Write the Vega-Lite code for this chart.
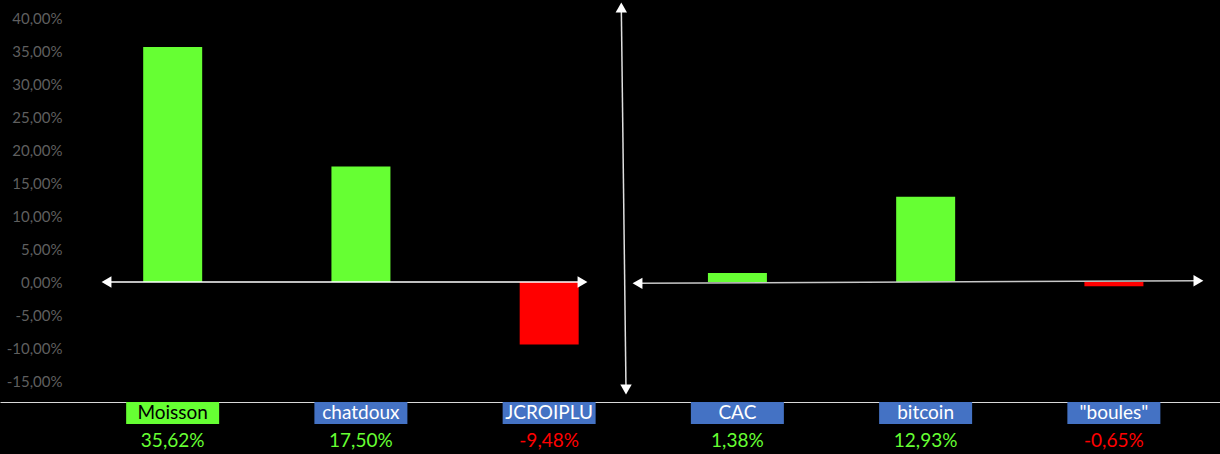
{
  "$schema": "https://vega.github.io/schema/vega-lite/v6.json",
  "background": "#000000",
  "padding": 0,
  "spacing": 0,
  "bounds": "flush",
  "config": {
    "view": {"stroke": null},
    "font": "Lato",
    "axisY": {"labelOverlap": false, "labelFlush": false},
    "locale": {"number": {"decimal": ",", "thousands": " ", "grouping": [3], "currency": ["", " €"], "minus": "-", "percent": "%"}}
  },
  "datasets": {
    "perf": [
      {"nom": "Moisson", "rendement": 0.3562},
      {"nom": "chatdoux", "rendement": 0.1750},
      {"nom": "JCROIPLU", "rendement": -0.0948},
      {"nom": "CAC", "rendement": 0.0138},
      {"nom": "bitcoin", "rendement": 0.1293},
      {"nom": "\"boules\"", "rendement": -0.0065}
    ],
    "fleches": [
      {"fleche": "gauche", "u1": -0.3517, "v1": 0.0, "u2": 2.1770, "v2": 0.0},
      {"fleche": "droite", "u1": 2.4692, "v1": -0.0020, "u2": 5.4489, "v2": 0.0020},
      {"fleche": "verticale", "u1": 2.3831, "v1": 0.4159, "u2": 2.4081, "v2": -0.1629}
    ],
    "pointes": [
      {"u": -0.3517, "v": 0.0, "sens": "gauche"},
      {"u": 2.1770, "v": 0.0, "sens": "droite"},
      {"u": 2.4692, "v": -0.0020, "sens": "gauche"},
      {"u": 5.4489, "v": 0.0020, "sens": "droite"},
      {"u": 2.3831, "v": 0.4159, "sens": "haut"},
      {"u": 2.4081, "v": -0.1629, "sens": "bas"}
    ]
  },
  "vconcat": [
    {
      "width": 1220,
      "height": 402,
      "layer": [
        {
          "data": {"name": "perf"},
          "mark": {"type": "bar"},
          "encoding": {
            "x": {
              "field": "nom", "type": "nominal", "sort": null, "title": null,
              "scale": {"paddingInner": 0.6866, "paddingOuter": 0.5838, "align": 0.6515},
              "axis": {"labels": false, "ticks": false, "domain": true, "domainColor": "#d9d9d9", "domainWidth": 1.2, "grid": false}
            },
            "y": {
              "field": "rendement", "type": "quantitative", "title": null,
              "scale": {"domain": [-0.1818, 0.4273], "nice": false, "zero": false},
              "axis": {
                "values": [-0.15, -0.1, -0.05, 0, 0.05, 0.1, 0.15, 0.2, 0.25, 0.3, 0.35, 0.4],
                "format": ".2%", "grid": false, "domain": false, "ticks": false, "tickSize": 0,
                "labelOverlap": false, "labelFlush": false,
                "labelPadding": 2, "offset": -64, "labelColor": "#5f5f5f", "labelFont": "Lato", "labelFontSize": 15
              }
            },
            "color": {"condition": {"test": "datum.rendement < 0", "value": "#ff0000"}, "value": "#66ff33"}
          }
        },
        {
          "data": {"name": "fleches"},
          "mark": {"type": "rule", "strokeWidth": 1.5},
          "encoding": {
            "x": {"field": "u1", "type": "quantitative", "title": null, "scale": {"domain": [-0.9175, 5.5636], "nice": false, "zero": false}, "axis": null},
            "x2": {"field": "u2"},
            "y": {
              "field": "v1", "type": "quantitative", "title": null,
              "scale": {"domain": [-0.1818, 0.4273], "nice": false, "zero": false},
              "axis": {
                "values": [-0.15, -0.1, -0.05, 0, 0.05, 0.1, 0.15, 0.2, 0.25, 0.3, 0.35, 0.4],
                "format": ".2%", "grid": false, "domain": false, "ticks": false, "tickSize": 0,
                "labelOverlap": false, "labelFlush": false,
                "labelPadding": 2, "offset": -64, "labelColor": "#5f5f5f", "labelFont": "Lato", "labelFontSize": 15
              }
            },
            "y2": {"field": "v2"},
            "color": {"field": "fleche", "type": "nominal", "scale": {"domain": ["gauche", "droite", "verticale"], "range": ["#ffffff", "#c8c8c8", "#e0e0e0"]}, "legend": null}
          }
        },
        {
          "data": {"name": "pointes"},
          "mark": {"type": "point", "filled": true, "size": 130, "opacity": 1, "color": "#ffffff"},
          "encoding": {
            "x": {"field": "u", "type": "quantitative", "title": null, "scale": {"domain": [-0.9175, 5.5636], "nice": false, "zero": false}, "axis": null},
            "y": {
              "field": "v", "type": "quantitative", "title": null,
              "scale": {"domain": [-0.1818, 0.4273], "nice": false, "zero": false},
              "axis": {
                "values": [-0.15, -0.1, -0.05, 0, 0.05, 0.1, 0.15, 0.2, 0.25, 0.3, 0.35, 0.4],
                "format": ".2%", "grid": false, "domain": false, "ticks": false, "tickSize": 0,
                "labelOverlap": false, "labelFlush": false,
                "labelPadding": 2, "offset": -64, "labelColor": "#5f5f5f", "labelFont": "Lato", "labelFontSize": 15
              }
            },
            "shape": {"field": "sens", "type": "nominal", "scale": {"domain": ["gauche", "droite", "haut", "bas"], "range": ["triangle-left", "triangle-right", "triangle-up", "triangle-down"]}, "legend": null}
          }
        }
      ],
      "resolve": {"scale": {"x": "independent"}, "axis": {"x": "independent"}}
    },
    {
      "width": 1220,
      "height": 52,
      "data": {"name": "perf"},
      "encoding": {
        "x": {"field": "nom", "type": "nominal", "sort": null, "title": null, "axis": null,
              "scale": {"paddingInner": 0.506, "paddingOuter": 0.4935, "align": 0.679}}
      },
      "layer": [
        {
          "mark": {"type": "rect"},
          "encoding": {
            "y": {"datum": "etiquette", "type": "nominal", "axis": null, "scale": {"domain": ["etiquette", "valeur"], "paddingInner": 0.2667, "paddingOuter": 0}},
            "color": {"condition": {"test": "datum.nom === 'Moisson'", "value": "#66ff33"}, "value": "#4472c4"}
          }
        },
        {
          "mark": {"type": "text", "font": "Lato", "fontSize": 19, "baseline": "middle", "align": "center"},
          "encoding": {
            "y": {"datum": "etiquette", "type": "nominal"},
            "text": {"field": "nom"},
            "color": {"condition": {"test": "datum.nom === 'Moisson'", "value": "#000000"}, "value": "#ffffff"}
          }
        },
        {
          "mark": {"type": "text", "font": "Lato", "fontSize": 19, "baseline": "middle", "align": "center", "dy": -2},
          "encoding": {
            "y": {"datum": "valeur", "type": "nominal"},
            "text": {"field": "rendement", "type": "quantitative", "format": ".2%"},
            "color": {"condition": {"test": "datum.rendement < 0", "value": "#ff0000"}, "value": "#66ff33"}
          }
        }
      ]
    }
  ]
}
